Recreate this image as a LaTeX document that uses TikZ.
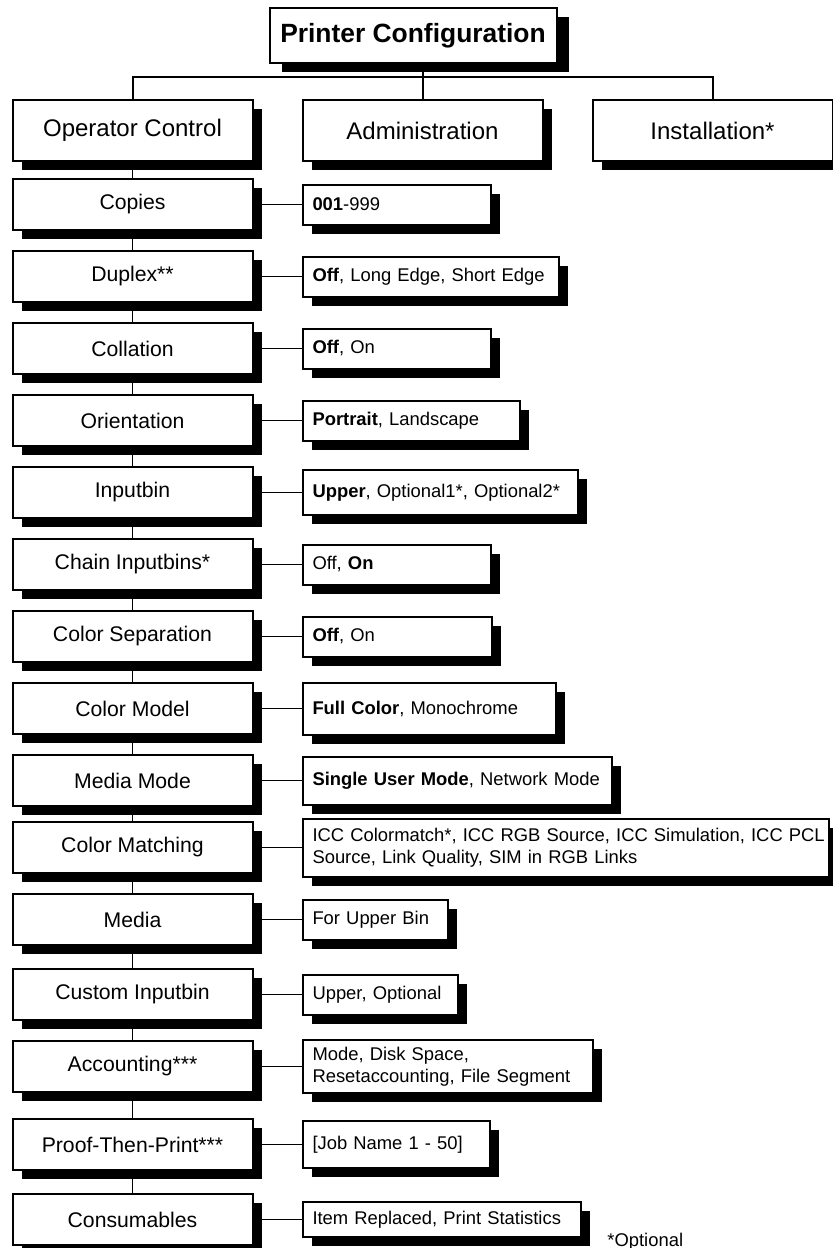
\documentclass[tikz,border=0pt]{standalone}
\usepackage{fontspec}
\setmainfont{Liberation Sans}
\usetikzlibrary{positioning, shadows}
\tikzset{
    boxshadow/.style={
        drop shadow={shadow xshift=4.5pt, shadow yshift=-4.5pt, opacity=1, fill=black}
    },
    titlebox/.style={
        rectangle, minimum width=143.5pt, minimum height=27.5pt,
        text centered, draw=black, fill=white, line width=1pt,
        font=\fontsize{13.2}{15}\selectfont\bfseries,
        drop shadow={shadow xshift=6pt, shadow yshift=-4.5pt, opacity=1, fill=black}
    },
    topbox/.style={
        rectangle, minimum width=120pt, minimum height=30.5pt,
        text centered, draw=black, fill=white, line width=1pt,
        font=\fontsize{12}{14}\selectfont, boxshadow
    },
    itembox/.style={
        rectangle, minimum width=120pt, minimum height=25.5pt,
        text centered, draw=black, fill=white, line width=1pt,
        font=\fontsize{10.6}{12.5}\selectfont, boxshadow
    },
    valbox/.style={
        rectangle, text width=#1, minimum height=20pt, inner xsep=5pt,
        align=left, draw=black, fill=white, line width=1pt,
        font=\fontsize{9.2}{11}\selectfont, boxshadow
    },
    bus/.style={line width=1pt},
    link/.style={line width=0.9pt},
    spine/.style={line width=0.5pt}
}

\begin{document}
\begin{tikzpicture}[node distance=9.5pt and 24pt]

    \useasboundingbox (0,0) rectangle (416pt,-624pt);

    % top levels
    \node[topbox] (opctl) at (66.25pt,-65.25pt) {Operator Control};
    \node[topbox, right=24pt of opctl]          (admin)   {Administration};
    \node[topbox, right=24pt of admin]          (install) {Installation*};
    \node[titlebox, above=17.5pt of admin, xshift=-4.75pt] (title) {Printer Configuration};
    \coordinate (busmid) at ([yshift=11pt]admin.north);

    \draw[bus] (admin.north) -- (admin.north |- title.south);
    \draw[bus] (opctl.north) |- (busmid) -| (install.north);

    % operator control menu
    \node[itembox, below=8pt of opctl]         (copies)    {Copies};
    \node[itembox, below=of copies]            (duplex)    {Duplex**};
    \node[itembox, below=of duplex]            (collate)   {Collation};
    \node[itembox, below=of collate]           (orient)    {Orientation};
    \node[itembox, below=of orient]            (inbin)     {Inputbin};
    \node[itembox, below=of inbin]             (chainbin)  {Chain Inputbins*};
    \node[itembox, below=of chainbin]          (colsep)    {Color Separation};
    \node[itembox, below=of colsep]            (colmodel)  {Color Model};
    \node[itembox, below=of colmodel]          (mediamode) {Media Mode};
    \node[itembox, below=7pt of mediamode]     (colmatch)  {Color Matching};
    \node[itembox, below=of colmatch]          (media)     {Media};
    \node[itembox, below=11pt of media]        (custbin)   {Custom Inputbin};
    \node[itembox, below=of custbin]           (acct)      {Accounting***};
    \node[itembox, below=12.5pt of acct]       (proof)     {Proof-Then-Print***};
    \node[itembox, below=11pt of proof]        (consum)    {Consumables};

    \draw[spine] (opctl)     -- (copies);
    \draw[spine] (copies)    -- (duplex);
    \draw[spine] (duplex)    -- (collate);
    \draw[spine] (collate)   -- (orient);
    \draw[spine] (orient)    -- (inbin);
    \draw[spine] (inbin)     -- (chainbin);
    \draw[spine] (chainbin)  -- (colsep);
    \draw[spine] (colsep)    -- (colmodel);
    \draw[spine] (colmodel)  -- (mediamode);
    \draw[spine] (mediamode) -- (colmatch);
    \draw[spine] (colmatch)  -- (media);
    \draw[spine] (media)     -- (custbin);
    \draw[spine] (custbin)   -- (acct);
    \draw[spine] (acct)      -- (proof);
    \draw[spine] (proof)     -- (consum);

    % settings
    \node[valbox=84pt, right=of copies]                          (copiesval)    {\textbf{001}-999};
    \node[valbox=118pt, right=of duplex]                         (duplexval)    {\textbf{Off}, Long Edge, Short Edge};
    \node[valbox=84pt, right=of collate]                         (collateval)   {\textbf{Off}, On};
    \node[valbox=98.5pt, right=of orient]                        (orientval)    {\textbf{Portrait}, Landscape};
    \node[valbox=127.5pt, minimum height=22.5pt, right=of inbin] (inbinval)     {\textbf{Upper}, Optional1*, Optional2*};
    \node[valbox=84pt, right=of chainbin]                        (chainbinval)  {Off, \textbf{On}};
    \node[valbox=84.5pt, right=of colsep]                        (colsepval)    {\textbf{Off}, On};
    \node[valbox=116.5pt, minimum height=26pt, right=of colmodel] (colmodelval) {\textbf{Full Color}, Monochrome};
    \node[valbox=144.5pt, minimum height=24pt, right=of mediamode] (mediamodeval) {\textbf{Single User Mode}, Network Mode};
    \node[valbox=253pt, minimum height=29pt, right=of colmatch]  (colmatchval)  {\mbox{ICC Colormatch*, ICC RGB Source, ICC Simulation, ICC PCL}\\Source, Link Quality, SIM in RGB Links};
    \node[valbox=62.5pt, right=of media]                         (mediaval)     {For Upper Bin};
    \node[valbox=67.5pt, right=of custbin]                       (custbinval)   {Upper, Optional};
    \node[valbox=135pt, minimum height=24pt, right=of acct]      (acctval)      {Mode, Disk Space,\\Resetaccounting, File Segment};
    \node[valbox=83.5pt, minimum height=23.5pt, right=of proof]  (proofval)     {[Job Name 1 - 50]};
    \node[valbox=129pt, minimum height=17.5pt, right=of consum]  (consumval)    {Item Replaced, Print Statistics};

    \draw[link] (copies)    -- (copiesval);
    \draw[link] (duplex)    -- (duplexval);
    \draw[link] (collate)   -- (collateval);
    \draw[link] (orient)    -- (orientval);
    \draw[link] (inbin)     -- (inbinval);
    \draw[link] (chainbin)  -- (chainbinval);
    \draw[link] (colsep)    -- (colsepval);
    \draw[link] (colmodel)  -- (colmodelval);
    \draw[link] (mediamode) -- (mediamodeval);
    \draw[link] (colmatch)  -- (colmatchval);
    \draw[link] (media)     -- (mediaval);
    \draw[link] (custbin)   -- (custbinval);
    \draw[link] (acct)      -- (acctval);
    \draw[link] (proof)     -- (proofval);
    \draw[link] (consum)    -- (consumval);

    \node[anchor=base west, inner sep=0pt, font=\fontsize{9.2}{11}\selectfont]
        (optnote) at (303.5pt,-623pt) {*Optional};

\end{tikzpicture}
\end{document}
